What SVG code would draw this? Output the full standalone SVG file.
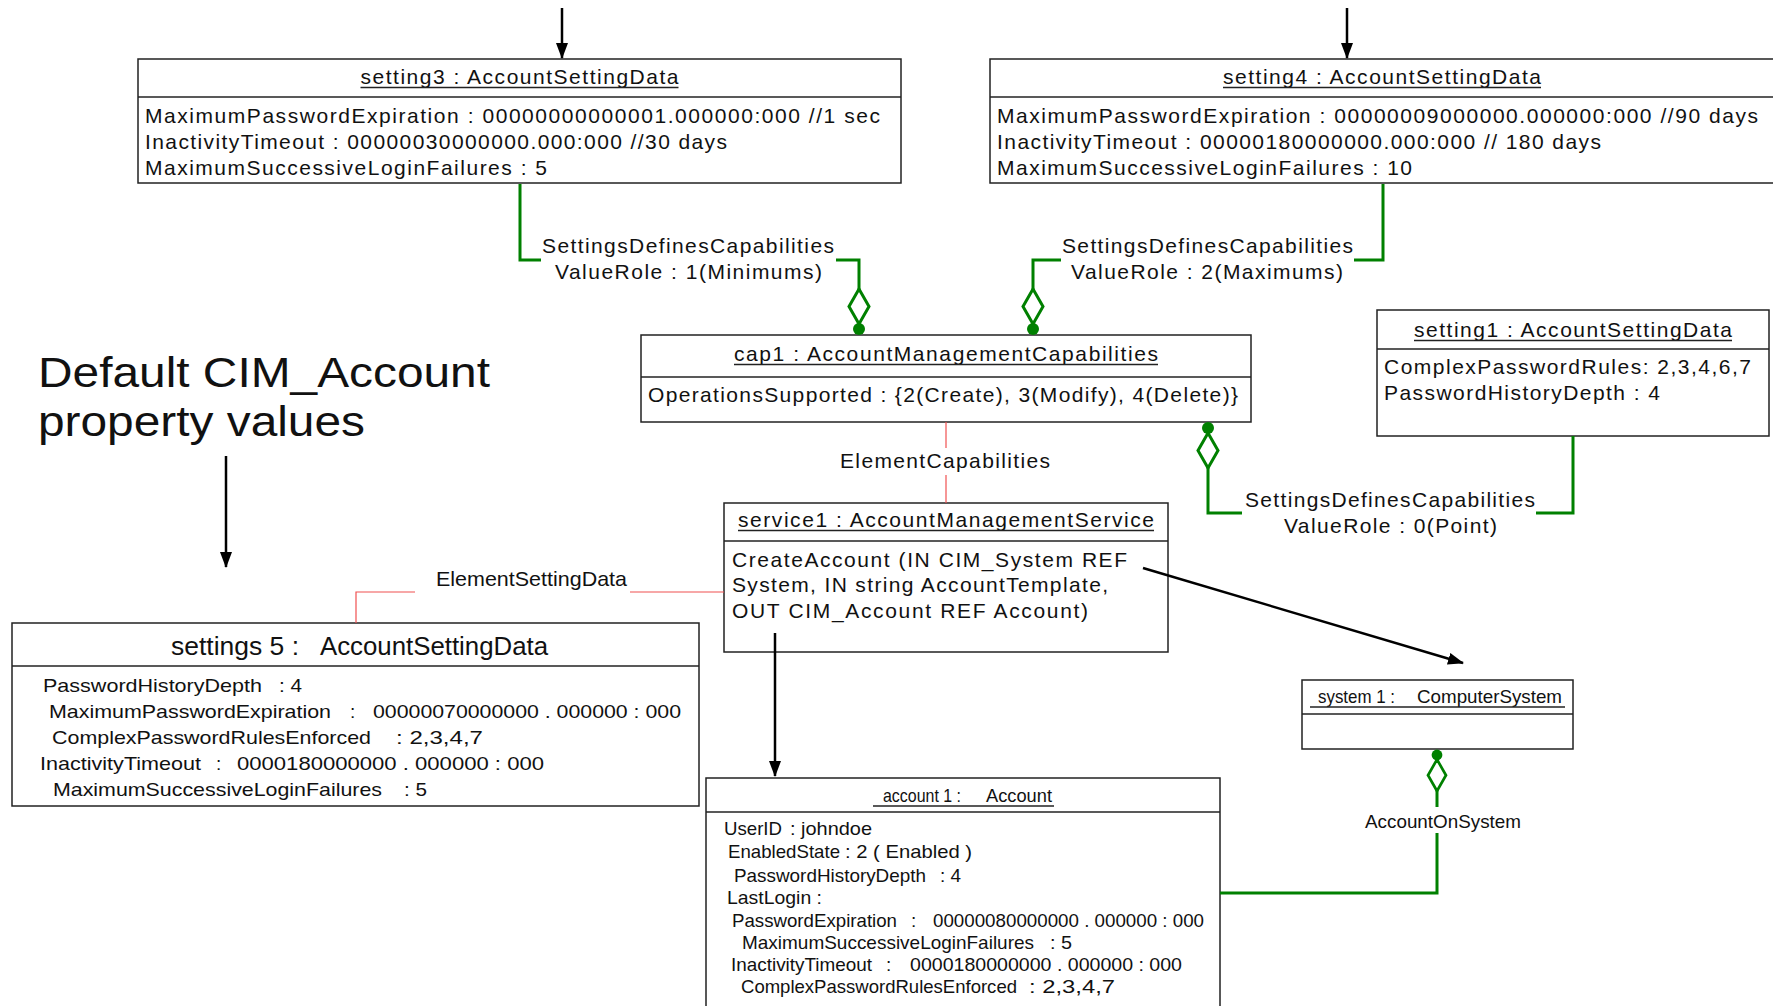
<svg xmlns="http://www.w3.org/2000/svg" xmlns:xlink="http://www.w3.org/1999/xlink" width="1773" height="1006" viewBox="0 0 1773 1006">
  <style>
    .box { fill: #ffffff; stroke: #222222; stroke-width: 1.5; }
    .sep { stroke: #222222; stroke-width: 1.5; }
    .t { font-family: "Liberation Sans", Arial, sans-serif; font-size: 21px; fill: #111111; }
    .n { font-family: "Liberation Sans", Arial, sans-serif; font-size: 19px; fill: #111111; }
    .mid { text-anchor: middle; }
    .blk { stroke: #000000; stroke-width: 2.5; fill: none; marker-end: url(#arrow); }
    .grn { stroke: #008000; stroke-width: 3; fill: none; }
    .red { stroke: #f05050; stroke-width: 1.2; fill: none; }
    .uline { stroke: #222222; stroke-width: 1.5; }
  </style>
  <defs>
    <marker id="arrow" viewBox="0 0 16 12" refX="15" refY="6" markerWidth="16" markerHeight="12" markerUnits="userSpaceOnUse" orient="auto">
      <path d="M0,0 L16,6 L0,12 Z" fill="#000000"/>
    </marker>
    <!-- aggregation end: filled dot at the owner, hollow diamond behind it -->
    <g id="agg">
      <path d="M0,5 L10,22.5 L0,40 L-10,22.5 Z" fill="#ffffff" stroke="#008000" stroke-width="3"/>
      <circle cx="0" cy="0" r="6" fill="#008000"/>
    </g>
  </defs>

  <rect width="1773" height="1006" fill="#ffffff"/>

  <!-- heading -->
  <g id="heading">
    <text class="t" x="38" y="387" style="font-size:43px" textLength="452" lengthAdjust="spacingAndGlyphs">Default CIM_Account</text>
    <text class="t" x="38" y="436" style="font-size:43px" textLength="327" lengthAdjust="spacingAndGlyphs">property values</text>
  </g>

  <!-- setting3 -->
  <g id="setting3">
    <rect class="box" x="138" y="59" width="763" height="124"/>
    <line class="sep" x1="138" y1="97" x2="901" y2="97"/>
    <text class="t mid" x="519.5" y="84" textLength="318" lengthAdjust="spacing">setting3 : AccountSettingData</text>
    <line class="uline" x1="360.5" y1="87.5" x2="678.5" y2="87.5"/>
    <text class="t" x="145" y="123" textLength="735" lengthAdjust="spacing">MaximumPasswordExpiration : 00000000000001.000000:000 //1 sec</text>
    <text class="t" x="145" y="149" textLength="582" lengthAdjust="spacing">InactivityTimeout : 00000030000000.000:000 //30 days</text>
    <text class="t" x="145" y="175" textLength="402" lengthAdjust="spacing">MaximumSuccessiveLoginFailures : 5</text>
  </g>

  <!-- setting4 -->
  <g id="setting4">
    <rect class="box" x="990" y="59" width="790" height="124"/>
    <line class="sep" x1="990" y1="97" x2="1780" y2="97"/>
    <text class="t mid" x="1382" y="84" textLength="318" lengthAdjust="spacing">setting4 : AccountSettingData</text>
    <line class="uline" x1="1223" y1="87.5" x2="1541" y2="87.5"/>
    <text class="t" x="997" y="123" textLength="761" lengthAdjust="spacing">MaximumPasswordExpiration : 00000009000000.000000:000 //90 days</text>
    <text class="t" x="997" y="149" textLength="604" lengthAdjust="spacing">InactivityTimeout : 00000180000000.000:000 // 180 days</text>
    <text class="t" x="997" y="175" textLength="415" lengthAdjust="spacing">MaximumSuccessiveLoginFailures : 10</text>
  </g>

  <!-- cap1 -->
  <g id="cap1">
    <rect class="box" x="641" y="335" width="610" height="87"/>
    <line class="sep" x1="641" y1="377" x2="1251" y2="377"/>
    <text class="t mid" x="946" y="361" textLength="424" lengthAdjust="spacing">cap1 : AccountManagementCapabilities</text>
    <line class="uline" x1="734" y1="364.5" x2="1158" y2="364.5"/>
    <text class="t" x="648" y="402" textLength="590" lengthAdjust="spacing">OperationsSupported : {2(Create), 3(Modify), 4(Delete)}</text>
  </g>

  <!-- setting1 -->
  <g id="setting1">
    <rect class="box" x="1377" y="310" width="392" height="126"/>
    <line class="sep" x1="1377" y1="349" x2="1769" y2="349"/>
    <text class="t mid" x="1573" y="337" textLength="318" lengthAdjust="spacing">setting1 : AccountSettingData</text>
    <line class="uline" x1="1414" y1="340.5" x2="1732" y2="340.5"/>
    <text class="t" x="1384" y="374" textLength="367" lengthAdjust="spacing">ComplexPasswordRules: 2,3,4,6,7</text>
    <text class="t" x="1384" y="400" textLength="276" lengthAdjust="spacing">PasswordHistoryDepth : 4</text>
  </g>

  <!-- service1 -->
  <g id="service1">
    <rect class="box" x="724" y="503" width="444" height="149"/>
    <line class="sep" x1="724" y1="541" x2="1168" y2="541"/>
    <text class="t mid" x="946" y="527" textLength="416" lengthAdjust="spacing">service1 : AccountManagementService</text>
    <line class="uline" x1="738" y1="530.5" x2="1154" y2="530.5"/>
    <text class="t" x="732" y="567" textLength="395" lengthAdjust="spacing">CreateAccount (IN CIM_System REF</text>
    <text class="t" x="732" y="592" textLength="376" lengthAdjust="spacing">System, IN string AccountTemplate,</text>
    <text class="t" x="732" y="618" textLength="356" lengthAdjust="spacing">OUT CIM_Account REF Account)</text>
  </g>

  <!-- system1 -->
  <g id="system1">
    <rect class="box" x="1302" y="680" width="271" height="69"/>
    <line class="sep" x1="1302" y1="714" x2="1573" y2="714"/>
    <text class="n" x="1318" y="703" textLength="77" lengthAdjust="spacingAndGlyphs">system 1 :</text>
    <text class="n" x="1417" y="703" textLength="145" lengthAdjust="spacingAndGlyphs">ComputerSystem</text>
    <line class="uline" x1="1310" y1="707" x2="1565" y2="707"/>
  </g>

  <!-- settings 5 -->
  <g id="settings5">
    <rect class="box" x="12" y="623" width="687" height="183"/>
    <line class="sep" x1="12" y1="666" x2="699" y2="666"/>
    <text class="n" x="171" y="655" style="font-size:25px" textLength="128" lengthAdjust="spacingAndGlyphs">settings 5 :</text>
    <text class="n" x="320" y="655" style="font-size:25px" textLength="228" lengthAdjust="spacingAndGlyphs">AccountSettingData</text>

    <text class="n" x="43" y="692" textLength="219" lengthAdjust="spacingAndGlyphs">PasswordHistoryDepth</text>
    <text class="n" x="279" y="692" textLength="23" lengthAdjust="spacingAndGlyphs">: 4</text>

    <text class="n" x="49" y="718" textLength="282" lengthAdjust="spacingAndGlyphs">MaximumPasswordExpiration</text>
    <text class="n" x="350" y="718">:</text>
    <text class="n" x="373" y="718" textLength="308" lengthAdjust="spacingAndGlyphs">00000070000000 . 000000 : 000</text>

    <text class="n" x="52" y="744" textLength="319" lengthAdjust="spacingAndGlyphs">ComplexPasswordRulesEnforced</text>
    <text class="n" x="396" y="744" textLength="87" lengthAdjust="spacingAndGlyphs">: 2,3,4,7</text>

    <text class="n" x="40" y="770" textLength="161" lengthAdjust="spacingAndGlyphs">InactivityTimeout</text>
    <text class="n" x="216" y="770">:</text>
    <text class="n" x="237" y="770" textLength="307" lengthAdjust="spacingAndGlyphs">0000180000000 . 000000 : 000</text>

    <text class="n" x="53" y="796" textLength="329" lengthAdjust="spacingAndGlyphs">MaximumSuccessiveLoginFailures</text>
    <text class="n" x="404" y="796" textLength="23" lengthAdjust="spacingAndGlyphs">: 5</text>
  </g>

  <!-- account 1 -->
  <g id="account1">
    <rect class="box" x="706" y="778" width="514" height="240"/>
    <line class="sep" x1="706" y1="812" x2="1220" y2="812"/>
    <text class="n" x="883" y="802" textLength="78" lengthAdjust="spacingAndGlyphs">account 1 :</text>
    <text class="n" x="986" y="802" textLength="66" lengthAdjust="spacingAndGlyphs">Account</text>
    <line class="uline" x1="873" y1="806" x2="1054" y2="806"/>

    <text class="n" x="724" y="835" textLength="58" lengthAdjust="spacingAndGlyphs">UserID</text>
    <text class="n" x="790" y="835" textLength="82" lengthAdjust="spacingAndGlyphs">: johndoe</text>

    <text class="n" x="728" y="858" textLength="112" lengthAdjust="spacingAndGlyphs">EnabledState</text>
    <text class="n" x="845" y="858" textLength="127" lengthAdjust="spacingAndGlyphs">: 2 ( Enabled )</text>

    <text class="n" x="734" y="882" textLength="192" lengthAdjust="spacingAndGlyphs">PasswordHistoryDepth</text>
    <text class="n" x="940" y="882" textLength="21" lengthAdjust="spacingAndGlyphs">: 4</text>

    <text class="n" x="727" y="904" textLength="95" lengthAdjust="spacingAndGlyphs">LastLogin  :</text>

    <text class="n" x="732" y="927" textLength="165" lengthAdjust="spacingAndGlyphs">PasswordExpiration</text>
    <text class="n" x="911" y="927">:</text>
    <text class="n" x="933" y="927" textLength="271" lengthAdjust="spacingAndGlyphs">00000080000000 . 000000 : 000</text>

    <text class="n" x="742" y="949" textLength="292" lengthAdjust="spacingAndGlyphs">MaximumSuccessiveLoginFailures</text>
    <text class="n" x="1050" y="949" textLength="22" lengthAdjust="spacingAndGlyphs">: 5</text>

    <text class="n" x="731" y="971" textLength="141" lengthAdjust="spacingAndGlyphs">InactivityTimeout</text>
    <text class="n" x="886" y="971">:</text>
    <text class="n" x="910" y="971" textLength="272" lengthAdjust="spacingAndGlyphs">0000180000000 . 000000 : 000</text>

    <text class="n" x="741" y="993" textLength="276" lengthAdjust="spacingAndGlyphs">ComplexPasswordRulesEnforced</text>
    <text class="n" x="1029" y="993" textLength="86" lengthAdjust="spacingAndGlyphs">: 2,3,4,7</text>
  </g>

  <!-- connectors -->
  <g id="connectors">
    <!-- plain arrows -->
    <path class="blk" d="M562,8 V58"/>
    <path class="blk" d="M1347,8 V58"/>
    <path class="blk" d="M226,456 V567"/>
    <path class="blk" d="M775,633 V776"/>
    <path class="blk" d="M1143,568 L1463,663"/>

    <!-- SettingsDefinesCapabilities: setting3 -> cap1 -->
    <path class="grn" d="M520,184 V260 H541"/>
    <path class="grn" d="M836,260 H859 V290"/>
    <use xlink:href="#agg" transform="translate(859,329) rotate(180)"/>
    <text class="t" x="542" y="253" textLength="292" lengthAdjust="spacing">SettingsDefinesCapabilities</text>
    <text class="t" x="555" y="279" textLength="267" lengthAdjust="spacing">ValueRole : 1(Minimums)</text>

    <!-- SettingsDefinesCapabilities: setting4 -> cap1 -->
    <path class="grn" d="M1383,184 V260 H1354"/>
    <path class="grn" d="M1061,260 H1033 V290"/>
    <use xlink:href="#agg" transform="translate(1033,329) rotate(180)"/>
    <text class="t" x="1062" y="253" textLength="291" lengthAdjust="spacing">SettingsDefinesCapabilities</text>
    <text class="t" x="1071" y="279" textLength="272" lengthAdjust="spacing">ValueRole : 2(Maximums)</text>

    <!-- SettingsDefinesCapabilities: setting1 -> cap1 -->
    <use xlink:href="#agg" transform="translate(1208,428)"/>
    <path class="grn" d="M1208,467 V513 H1242"/>
    <path class="grn" d="M1536,513 H1573 V436"/>
    <text class="t" x="1245" y="507" textLength="290" lengthAdjust="spacing">SettingsDefinesCapabilities</text>
    <text class="t" x="1284" y="533" textLength="213" lengthAdjust="spacing">ValueRole : 0(Point)</text>

    <!-- AccountOnSystem -->
    <use xlink:href="#agg" transform="translate(1437,755) scale(0.9)"/>
    <path class="grn" d="M1437,790 V807"/>
    <path class="grn" d="M1437,833 V893 H1220"/>
    <text class="n" x="1365" y="828" textLength="156" lengthAdjust="spacingAndGlyphs">AccountOnSystem</text>

    <!-- ElementCapabilities -->
    <path class="red" d="M946,422 V448"/>
    <path class="red" d="M946,475 V503"/>
    <text class="t" x="840" y="468" textLength="210" lengthAdjust="spacing">ElementCapabilities</text>

    <!-- ElementSettingData -->
    <path class="red" d="M356,623 V592 H415"/>
    <path class="red" d="M630,592 H724"/>
    <text class="n" x="436" y="586" style="font-size:21px" textLength="191" lengthAdjust="spacingAndGlyphs">ElementSettingData</text>
  </g>
</svg>
